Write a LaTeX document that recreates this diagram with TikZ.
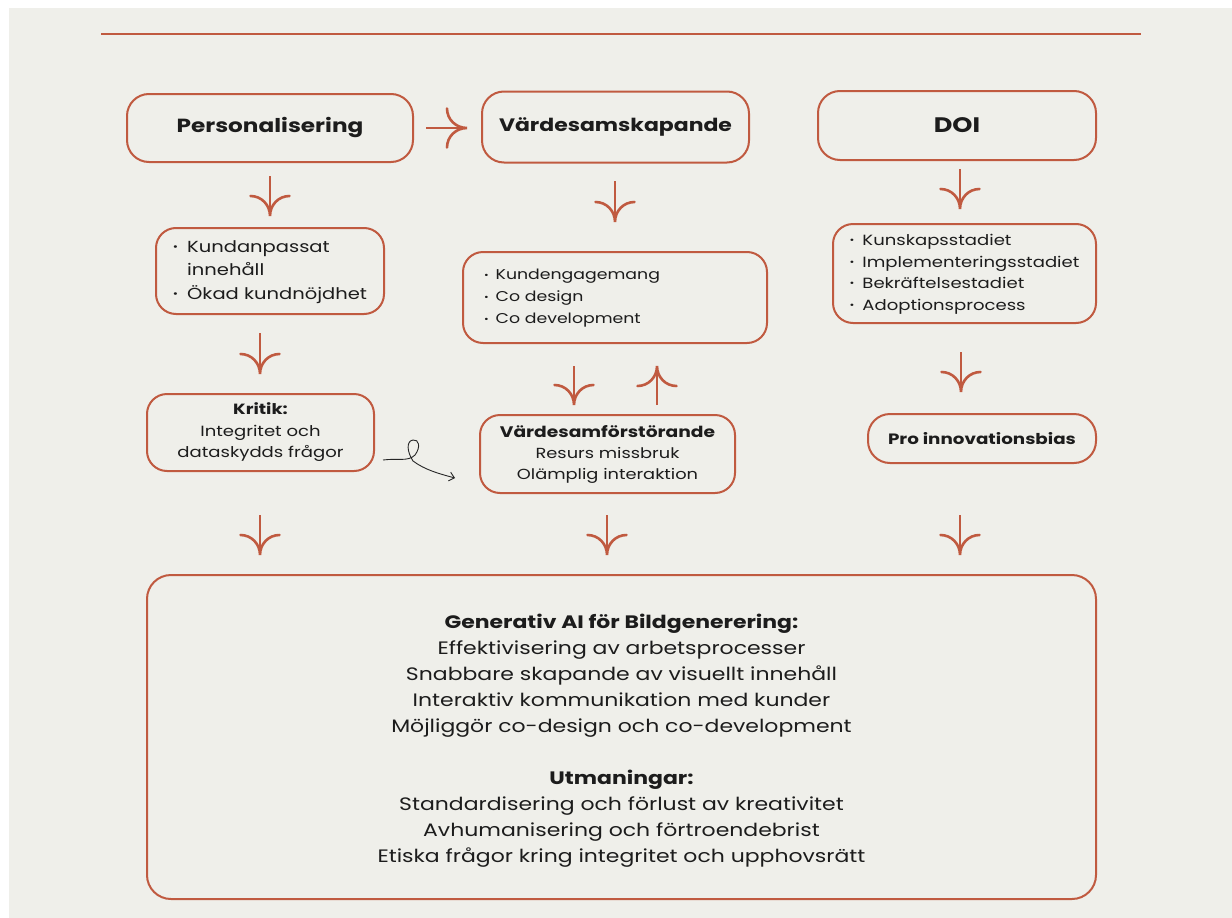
\documentclass[tikz,border=0pt]{standalone}
\usepackage{fontspec}
\setmainfont{Poppins}[FakeStretch=1.22]
\usetikzlibrary{arrows.meta}
\definecolor{rust}{HTML}{C05A40}
\definecolor{bgc}{HTML}{EFEFEA}
\definecolor{ink}{HTML}{1C1C1C}

\pgfdeclarearrow{
  name = Tulip,
  setup code = {
    \pgfarrowssettipend{0pt}
    \pgfarrowssetlineend{0pt}
    \pgfarrowsupperhullpoint{-20pt}{20pt}
    \pgfarrowsupperhullpoint{0pt}{0pt}
  },
  drawing code = {
    \pgfsetdash{}{0pt}
    \pgfsetroundcap
    \pgfpathmoveto{\pgfpoint{-20pt}{19.5pt}}
    \pgfpathcurveto{\pgfpoint{-20pt}{8.5pt}}{\pgfpoint{-11pt}{0pt}}{\pgfpoint{0pt}{0pt}}
    \pgfpathcurveto{\pgfpoint{-11pt}{0pt}}{\pgfpoint{-20pt}{-8.5pt}}{\pgfpoint{-20pt}{-19.5pt}}
    \pgfusepathqstroke
  }
}

\newcommand{\bul}{\raisebox{0.12em}{\scalebox{0.65}{\textbullet}}}

\begin{document}
\begin{tikzpicture}[x=1pt,y=-1pt,
  box/.style={draw=rust, line width=2pt, rounded corners=22pt, inner sep=0pt, align=center, text=ink},
  txt/.style={inner sep=0pt, align=center, text=ink},
  flow/.style={draw=rust, line width=2.6pt, -Tulip},
  note/.style={draw=black!85, line width=0.9pt, -{Straight Barb[length=5pt,width=9pt]}},
  topline/.style={draw=rust, line width=2pt}
]
\useasboundingbox (0,0) rectangle (1232,918);
\fill[white] (0,0) rectangle (1232,918);
\fill[bgc] (9,8) rectangle (1232,918);

\coordinate (L1) at (101,33.5);
\coordinate (L2) at (1141,33.5);
\draw[topline] (L1) -- (L2);

% top row
\node[box, minimum width=286pt, minimum height=68pt, font=\fontsize{19}{23}\selectfont\bfseries] (P) at (270,128) {Personalisering};
\node[box, minimum width=267pt, minimum height=71pt, font=\fontsize{18}{23}\selectfont\bfseries] (V) at (615.5,127) {Värdesamskapande};
\node[box, minimum width=278pt, minimum height=69pt, font=\fontsize{21}{25}\selectfont\bfseries] (D) at (957,125.5) {DOI};

% second row
\node[box, minimum width=228pt, minimum height=86pt, rounded corners=20pt, font=\fontsize{16}{23.5}\selectfont] (K1) at (270,271)
  {\begin{tabular}{@{}l@{\hspace{9pt}}l@{}}\bul & Kundanpassat\\ & innehåll\\ \bul & Ökad kundnöjdhet\end{tabular}};
\node[box, minimum width=304pt, minimum height=91pt, text width=262pt, inner xsep=21pt, align=left, rounded corners=20pt, font=\fontsize{14.2}{22}\selectfont] (K2) at (615,297.5)
  {\begin{tabular}{@{}l@{\hspace{7pt}}l@{}}\bul & Kundengagemang\\ \bul & Co design\\ \bul & Co development\end{tabular}};
\node[box, minimum width=263pt, minimum height=99pt, rounded corners=20pt, font=\fontsize{14.8}{21.5}\selectfont] (K3) at (964.5,273.5)
  {\begin{tabular}{@{}l@{\hspace{8pt}}l@{}}\bul & Kunskapsstadiet\\ \bul & Implementeringsstadiet\\ \bul & Bekräftelsestadiet\\ \bul & Adoptionsprocess\end{tabular}};

% third row
\node[box, minimum width=227pt, minimum height=77pt, rounded corners=20pt, font=\fontsize{14.8}{21.5}\selectfont] (Kr) at (260.5,432.5)
  {{\bfseries Kritik:}\\ Integritet och\\ dataskydds frågor};
\node[box, minimum width=255pt, minimum height=78pt, rounded corners=20pt, font=\fontsize{14.6}{21}\selectfont] (VF) at (607.5,454)
  {{\bfseries\fontsize{15.3}{21}\selectfont Värdesamförstörande}\\ Resurs missbruk\\ Olämplig interaktion};
\node[box, minimum width=228pt, minimum height=49pt, font=\fontsize{15}{20}\selectfont\bfseries] (PI) at (982,438.5) {Pro innovationsbias};

% bottom
\node[box, minimum width=949pt, minimum height=324pt, rounded corners=24pt] (B) at (621.5,737) {};
\node[txt, font=\fontsize{18}{26}\selectfont] (BT) at (621.5,741)
  {{\bfseries Generativ AI för Bildgenerering:}\\
   Effektivisering av arbetsprocesser\\
   Snabbare skapande av visuellt innehåll\\
   Interaktiv kommunikation med kunder\\
   Möjliggör co-design och co-development\\[26pt]
   {\bfseries Utmaningar:}\\
   Standardisering och förlust av kreativitet\\
   Avhumanisering och förtroendebrist\\
   Etiska frågor kring integritet och upphovsrätt};

% arrow coordinates
\coordinate (r1) at (426,128);  \coordinate (r2) at (467,128);
\coordinate (a1) at (270,176);  \coordinate (b1) at (270,216);
\coordinate (a2) at (615,181);  \coordinate (b2) at (615,222);
\coordinate (a3) at (960,169);  \coordinate (b3) at (960,209);
\coordinate (a4) at (260,333);  \coordinate (b4) at (260,374);
\coordinate (a5) at (574,366);  \coordinate (b5) at (574,405);
\coordinate (a6) at (657,405);  \coordinate (b6) at (657,366);
\coordinate (a7) at (961,352);  \coordinate (b7) at (961,392);
\coordinate (a8) at (260,515);  \coordinate (b8) at (260,555);
\coordinate (a9) at (607,515);  \coordinate (b9) at (607,555);
\coordinate (a10) at (960,515); \coordinate (b10) at (960,555);

\draw[flow] (r1) -- (r2);
\draw[flow] (a1) -- (b1);
\draw[flow] (a2) -- (b2);
\draw[flow] (a3) -- (b3);
\draw[flow] (a4) -- (b4);
\draw[flow] (a5) -- (b5);
\draw[flow] (a6) -- (b6);
\draw[flow] (a7) -- (b7);
\draw[flow] (a8) -- (b8);
\draw[flow] (a9) -- (b9);
\draw[flow] (a10) -- (b10);

% curly note arrow
\coordinate (c1) at (383,460);
\coordinate (c2) at (455,478);
\draw[note] (c1) .. controls (398,458) and (408,462) .. (415,455)
  .. controls (421,447) and (419,439) .. (413,440)
  .. controls (406,441) and (407,452) .. (413,461)
  .. controls (425,470) and (440,474) .. (c2);
\end{tikzpicture}
\end{document}
